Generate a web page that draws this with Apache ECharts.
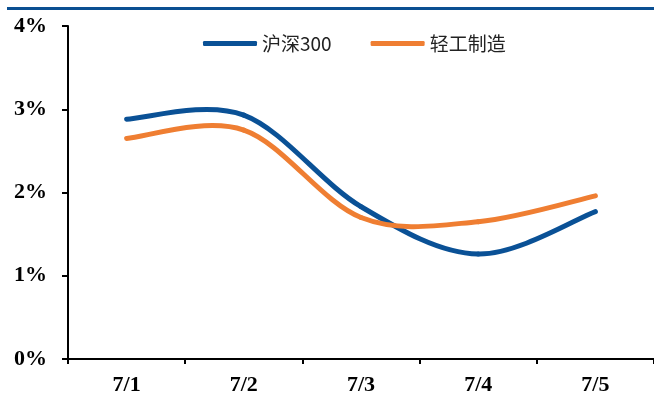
<!DOCTYPE html>
<html>
<head>
<meta charset="utf-8">
<script src="https://cdn.jsdelivr.net/npm/echarts@6/dist/echarts.min.js"></script>
<style>
html,body{margin:0;padding:0;background:#fff;}
#chart{width:654px;height:402px;}
</style>
</head>
<body>
<div id="chart"></div>
<script>
const categories = ['7/1', '7/2', '7/3', '7/4', '7/5'];
const seriesNames = ['沪深300', '轻工制造'];
const hs300 = [2.88, 2.93, 1.83, 1.26, 1.77];
const lightIndustry = [2.65, 2.75, 1.70, 1.65, 1.96];
const yTicks = [0, 1, 2, 3, 4];

const blue = '#0A5196';
const orange = '#EF7E32';

// Smoothed segment (Catmull-Rom style, as in spreadsheet smoothed lines) between
// data points i and i+1, positioned through the chart's own scales via api.coord.
function smoothSegment(values, color) {
  return function (params, api) {
    const i = params.dataIndex;
    if (i >= values.length - 1) return null;
    const clampIdx = j => Math.max(0, Math.min(values.length - 1, j));
    const pt = j => api.coord([clampIdx(j), values[clampIdx(j)]]);
    const p0 = pt(i - 1), p1 = pt(i), p2 = pt(i + 1), p3 = pt(i + 2);
    const c1 = [p1[0] + (p2[0] - p0[0]) / 6, p1[1] + (p2[1] - p0[1]) / 6];
    const c2 = [p2[0] - (p3[0] - p1[0]) / 6, p2[1] - (p3[1] - p1[1]) / 6];
    return {
      type: 'bezierCurve',
      shape: {x1: p1[0], y1: p1[1], x2: p2[0], y2: p2[1], cpx1: c1[0], cpy1: c1[1], cpx2: c2[0], cpy2: c2[1]},
      style: {stroke: color, lineWidth: 5, fill: null, lineCap: 'round'},
      silent: true
    };
  };
}

const chart = echarts.init(document.getElementById('chart'), null, {renderer: 'canvas'});
const labelFont = {fontFamily: 'Liberation Serif', fontWeight: 'bold', fontSize: 22, color: '#000'};
chart.setOption({
  animation: false,
  backgroundColor: '#fff',
  graphic: [{
    type: 'rect',
    shape: {x: 7, y: 7, width: 647, height: 3},
    style: {fill: '#0A4F92'},
    silent: true
  }],
  legend: {
    left: 203,
    top: 34,
    padding: 0,
    itemWidth: 54,
    itemHeight: 5,
    itemGap: 39,
    icon: 'roundRect',
    textStyle: {fontFamily: 'Noto Sans CJK SC', fontSize: 19, color: '#222'},
    data: seriesNames
  },
  grid: {left: 68, right: 0, top: 26, bottom: 43, outerBoundsMode: 'none'},
  xAxis: {
    type: 'category',
    data: categories,
    boundaryGap: true,
    axisLine: {lineStyle: {color: '#000', width: 2}},
    axisTick: {show: true, length: 5, inside: false, lineStyle: {color: '#000', width: 2}},
    axisLabel: Object.assign({margin: 15}, labelFont),
    splitLine: {show: false}
  },
  yAxis: {
    type: 'value',
    min: yTicks[0],
    max: yTicks[yTicks.length - 1],
    interval: 1,
    axisLine: {show: true, lineStyle: {color: '#000', width: 2}},
    axisTick: {show: true, length: 6, inside: false, lineStyle: {color: '#000', width: 2}},
    axisLabel: Object.assign({margin: 21, formatter: '{value}%'}, labelFont),
    splitLine: {show: false}
  },
  series: [
    {
      name: seriesNames[0],
      type: 'custom',
      data: hs300.map((v, i) => [i, v]),
      encode: {x: 0, y: 1},
      itemStyle: {color: blue},
      renderItem: smoothSegment(hs300, blue)
    },
    {
      name: seriesNames[1],
      type: 'custom',
      data: lightIndustry.map((v, i) => [i, v]),
      encode: {x: 0, y: 1},
      itemStyle: {color: orange},
      renderItem: smoothSegment(lightIndustry, orange)
    }
  ]
});
</script>
</body>
</html>
